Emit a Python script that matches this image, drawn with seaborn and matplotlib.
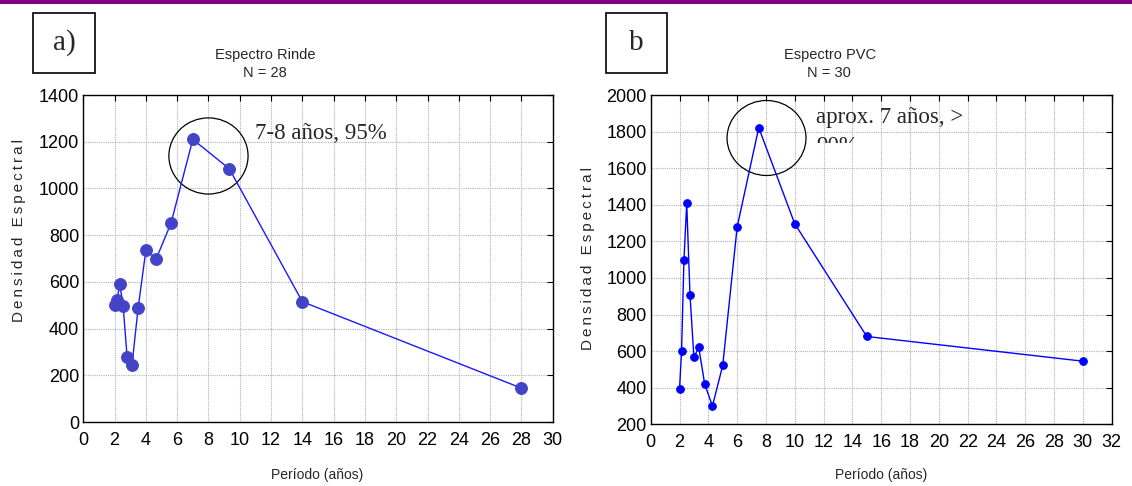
import numpy as np
import pandas as pd
import matplotlib
matplotlib.use("Agg")
import matplotlib.pyplot as plt
import seaborn as sns
from matplotlib.patches import Ellipse, Rectangle
from matplotlib.transforms import Bbox, TransformedBbox

# ---- data ----
periodo_rinde = [2.0, 2.154, 2.333, 2.545, 2.8, 3.111, 3.5, 4.0, 4.667, 5.6, 7.0, 9.333, 14.0, 28.0]
densidad_rinde = [500, 524, 589, 496, 279, 243, 486, 736, 700, 850, 1210, 1084, 515, 145]

periodo_pvc = [2.0, 2.143, 2.308, 2.5, 2.727, 3.0, 3.333, 3.75, 4.286, 5.0, 6.0, 7.5, 10.0, 15.0, 30.0]
densidad_pvc = [391, 602, 1098, 1408, 907, 566, 621, 419, 300, 522, 1278, 1821, 1296, 680, 545]

xticks_rinde = list(range(0, 31, 2))
yticks_rinde = list(range(0, 1401, 200))
xticks_pvc = list(range(0, 33, 2))
yticks_pvc = list(range(200, 2001, 200))

titulo_a = ["Espectro Rinde", "N = 28"]
titulo_b = ["Espectro PVC", "N = 30"]
nota_a = "7-8 años, 95%"
nota_b = ["aprox. 7 años, >", "90%"]

sns.set_style("white")
SANS = ["Liberation Sans", "DejaVu Sans"]
SERIF = ["Liberation Serif", "DejaVu Serif"]
plt.rcParams["font.family"] = SANS

W, H = 1132, 486
fig = plt.figure(figsize=(W / 100, H / 100), dpi=100)

def fx(px):
    return px / W

def fy(py):
    return 1 - py / H

# purple band on top
fig.add_artist(Rectangle((0, fy(4.5)), 1, 4.5 / H, transform=fig.transFigure,
                         facecolor="#800080", edgecolor="none"))

ax1 = fig.add_axes([fx(83.3), fy(422), fx(552.7 - 83.3), (422 - 95) / H])
ax2 = fig.add_axes([fx(650.7), fy(424.3), fx(1111.7 - 650.7), (424.3 - 95) / H])

df1 = pd.DataFrame({"Periodo": periodo_rinde, "Densidad": densidad_rinde})
df2 = pd.DataFrame({"Periodo": periodo_pvc, "Densidad": densidad_pvc})

sns.lineplot(data=df1, x="Periodo", y="Densidad", ax=ax1, color="#1a1aff", lw=1.0,
             marker="o", markersize=8.5, markerfacecolor="#4343c8", markeredgecolor="#4343c8")
sns.lineplot(data=df2, x="Periodo", y="Densidad", ax=ax2, color="#0000ff", lw=1.0,
             marker="o", markersize=5.5, markerfacecolor="#0000ff", markeredgecolor="#0000ff")

def style(ax, xt, yt):
    ax.set_xlim(xt[0], xt[-1])
    ax.set_ylim(yt[0], yt[-1])
    ax.set_xticks(xt)
    ax.set_yticks(yt)
    ax.set_xticklabels([str(v) for v in xt])
    ax.set_yticklabels([str(v) for v in yt])
    ax.grid(True, color="#b0b0b0", linestyle=(0, (1, 1)), linewidth=0.8)
    ax.set_axisbelow(True)
    for s in ax.spines.values():
        s.set_visible(True)
        s.set_color("black")
        s.set_linewidth(1.0)
    ax.tick_params(direction="in", length=4, width=0.8, top=True, right=True,
                   labelsize=13, pad=3, colors="black")
    ax.tick_params(axis="x", pad=7)
    ax.set_xlabel("")
    ax.set_ylabel("")

style(ax1, xticks_rinde, yticks_rinde)
style(ax2, xticks_pvc, yticks_pvc)

# circles
ax1.add_patch(Ellipse((8.0, 1139), 2 * 2.53, 2 * 163, fill=False, edgecolor="black", lw=0.9))
ax2.add_patch(Ellipse((8.04, 1765), 2 * 2.74, 2 * 205, fill=False, edgecolor="black", lw=0.9))

# annotations
fig.text(fx(255), fy(133), nota_a, family=SERIF, fontsize=16.5, va="center", ha="left")
fig.text(fx(816), fy(118), nota_b[0], family=SERIF, fontsize=16.5, va="center", ha="left")
t = fig.text(fx(816), fy(146), nota_b[1], family=SERIF, fontsize=16.5, va="center", ha="left")
clip = TransformedBbox(Bbox([[0, fy(143)], [1, 1]]), fig.transFigure)
t.set_clip_box(clip)
t.set_clip_on(True)

# label boxes
for (x0, x1, lab) in [(33, 95, "a)"), (605.7, 666.7, "b")]:
    fig.add_artist(Rectangle((fx(x0), fy(73)), fx(x1 - x0), (73 - 12.7) / H,
                             transform=fig.transFigure, fill=False, edgecolor="black", lw=1.2))
    fig.text(fx((x0 + x1) / 2), fy(43), lab, family=SERIF, fontsize=21, ha="center", va="center")

# titles
fig.text(fx(265), fy(55), titulo_a[0], fontsize=10.5, ha="center", va="center")
fig.text(fx(265), fy(73), titulo_a[1], fontsize=10.5, ha="center", va="center")
fig.text(fx(830), fy(55), titulo_b[0], fontsize=10.5, ha="center", va="center")
fig.text(fx(829), fy(73), titulo_b[1], fontsize=10.5, ha="center", va="center")

# axis labels
sp = "\u2009"
ylab = sp.join(list("Densidad Espectral"))
fig.text(fx(19), fy(230), ylab, family=SANS, fontsize=11, rotation=90, ha="center", va="center")
fig.text(fx(588), fy(259), ylab, family=SANS, fontsize=11, rotation=90, ha="center", va="center")
fig.text(fx(317), fy(475), "Período (años)", fontsize=10, ha="center", va="center")
fig.text(fx(881), fy(475), "Período (años)", fontsize=10, ha="center", va="center")

fig.savefig("out.png", dpi=100)
